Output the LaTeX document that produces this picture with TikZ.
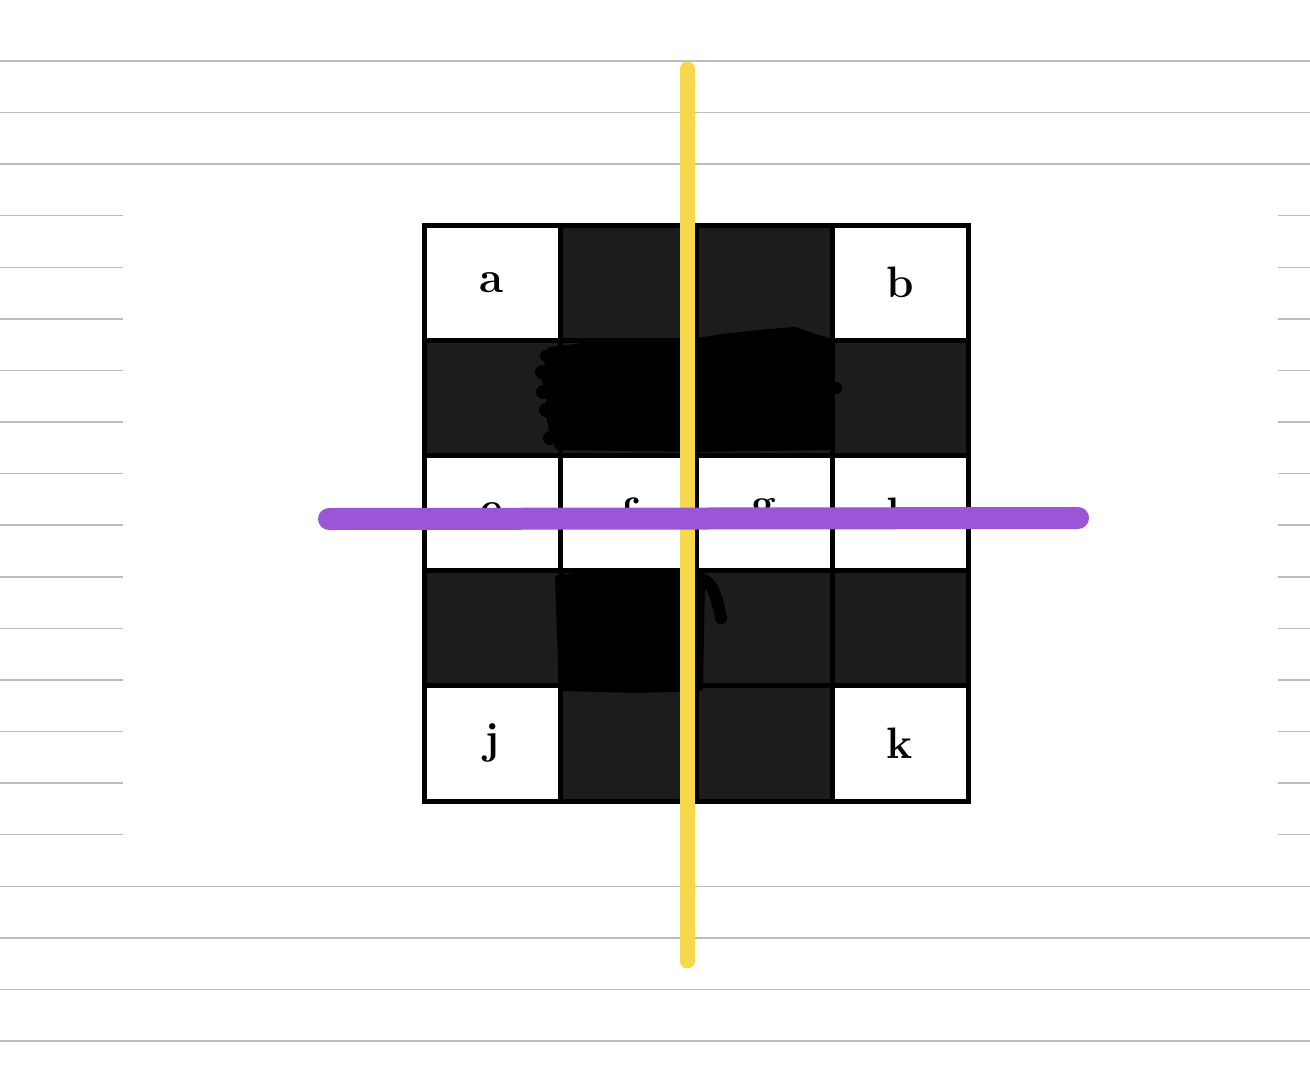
\documentclass[tikz,border=0pt]{standalone}
\definecolor{darkcell}{HTML}{1C1C1C}
\definecolor{hlyellow}{HTML}{F5D94B}
\definecolor{hlpurple}{HTML}{9B55D7}
\definecolor{ruled}{HTML}{BDBDBD}
\begin{document}
\begin{tikzpicture}[x=0.5pt,y=-0.5pt,
  cell/.style={draw=black, line width=2.5pt, minimum width=68pt, minimum height=57.6pt, inner sep=0pt, outer sep=0pt, font=\fontsize{22}{26}\selectfont\bfseries},
  light/.style={cell, fill=white},
  darkbox/.style={cell, fill=darkcell},
  rule/.style={draw=ruled, line width=0.75pt},
  scribble/.style={fill=black, draw=black, line width=3pt, line join=round, line cap=round},
  marker/.style={line cap=round}]
\useasboundingbox[fill=white] (0,0) rectangle (1310,1086);
% ruled paper
\foreach \i in {0,1,2,16,17,18,19} {
  \draw[rule] (0,{61+51.58*\i}) -- (1310,{61+51.58*\i});
}
\foreach \i in {3,...,15} {
  \draw[rule] (0,{61+51.58*\i}) -- (123,{61+51.58*\i});
  \draw[rule] (1278,{61+51.58*\i}) -- (1310,{61+51.58*\i});
}
% grid
\node[light]   (c11) at (492,282.6) {a};
\node[darkbox] (c12) at (628,282.6) {};
\node[darkbox] (c13) at (764,282.6) {};
\node[light]   (c14) at (900,282.6) {b};
\node[darkbox] (c21) at (492,397.8) {};
\node[darkbox] (c22) at (628,397.8) {};
\node[darkbox] (c23) at (764,397.8) {};
\node[darkbox] (c24) at (900,397.8) {};
\node[light]   (c31) at (492,513) {e};
\node[light]   (c32) at (628,513) {f};
\node[light]   (c33) at (764,513) {g};
\node[light]   (c34) at (900,513) {h};
\node[darkbox] (c41) at (492,628.2) {};
\node[darkbox] (c42) at (628,628.2) {};
\node[darkbox] (c43) at (764,628.2) {};
\node[darkbox] (c44) at (900,628.2) {};
\node[light]   (c51) at (492,743.4) {j};
\node[darkbox] (c52) at (628,743.4) {};
\node[darkbox] (c53) at (764,743.4) {};
\node[light]   (c54) at (900,743.4) {k};
% scribbles
\filldraw[scribble] (550,350) -- (600,344) -- (690,342) -- (730,336) -- (770,332) -- (795,330) -- (815,337) -- (826,340) -- (830,365) -- (833,388) -- (828,405) -- (828,447) -- (700,449) -- (558,447) -- (552,430) -- (548,410) -- (550,395) -- (544,378) -- (548,362) -- cycle;
\fill (542,372) circle (7);
\fill (543,392) circle (7);
\fill (546,410) circle (7);
\fill (550,438) circle (7);
\fill (546,356) circle (6);
\fill (836,388) circle (6);
\fill (790,334) circle (6);
\filldraw[scribble] (558,578) -- (600,573) -- (690,573) -- (702,578) -- (700,688) -- (640,690) -- (562,688) -- cycle;
\draw[line width=6pt, line cap=round] (698,578) .. controls (714,580) and (717,600) .. (721,618);
% highlighter strokes
\coordinate (ytop) at (687,69);
\coordinate (ybot) at (687,961);
\draw[marker, draw=hlyellow, line width=7.5pt] (ytop) -- (ybot);
\coordinate (pleft) at (329,519);
\coordinate (pright) at (1078,518);
\draw[marker, draw=hlpurple, line width=11pt] (pleft) -- (pright);
\end{tikzpicture}
\end{document}
